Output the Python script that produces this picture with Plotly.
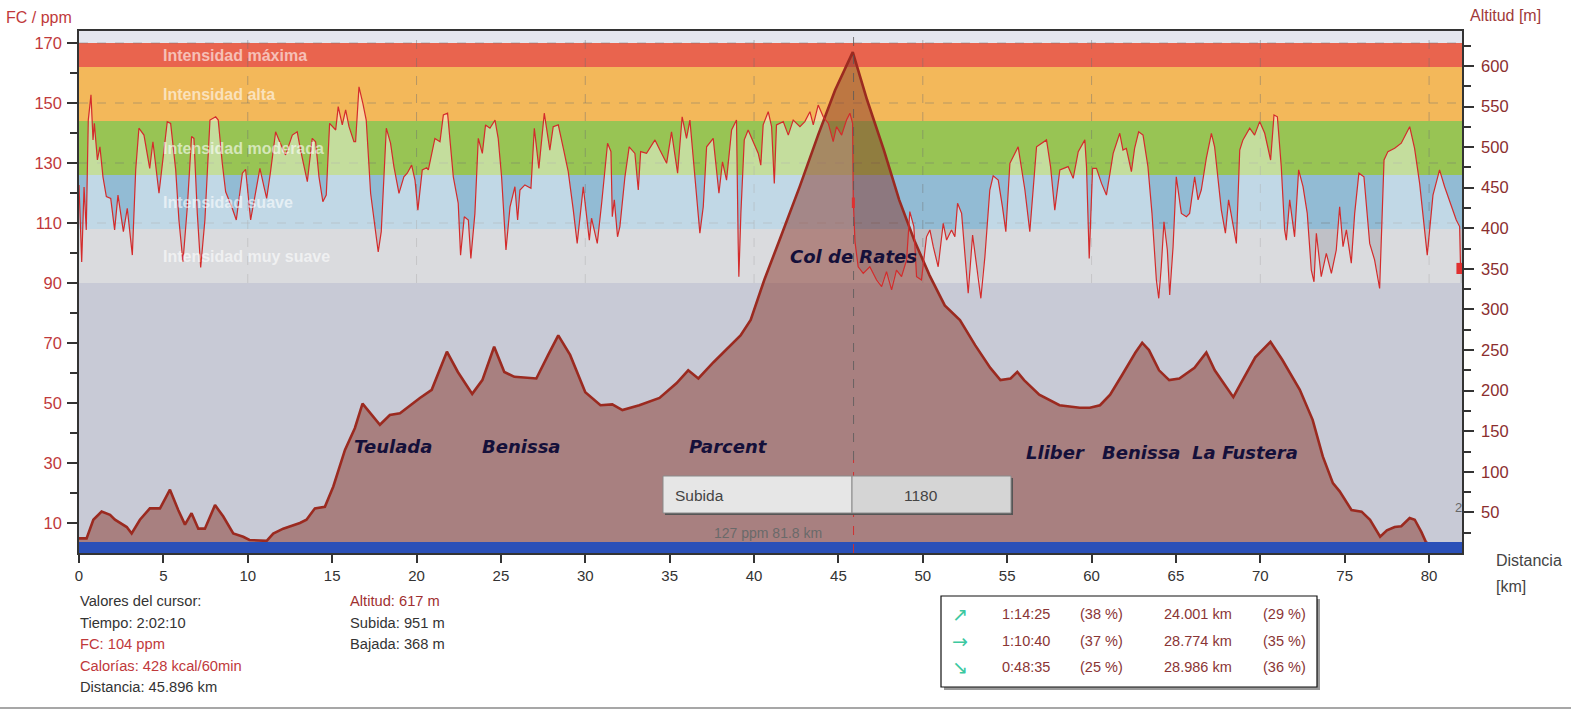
import plotly.graph_objects as go
import numpy as np

# ---------------- data ----------------
hr_km = [0, 0.16, 0.3, 0.43, 0.55, 0.71, 0.83, 0.91, 1.09, 1.24, 1.42, 1.62, 1.88, 2.11, 2.31, 2.63, 2.86, 3.16,
         3.36, 3.55, 3.85, 4.19, 4.38, 4.74, 5.23, 5.43, 5.73, 5.92, 6.16, 6.42, 6.67, 6.81, 7.01, 7.21, 7.46, 7.76,
         8.1, 8.25, 8.49, 8.69, 9.08, 9.32, 9.68, 9.87, 10.17, 10.47, 10.72, 10.96, 11.12, 11.35, 11.65, 11.85, 12.24,
         12.64, 12.93, 13.13, 13.53, 13.82, 14.02, 14.22, 14.45, 14.65, 14.85, 15.21, 15.36, 15.6, 15.8, 16.0, 16.29,
         16.39, 16.59, 16.82, 17.02, 17.28, 17.52, 17.73, 17.91, 18.21, 18.46, 18.66, 18.96, 19.25, 19.45, 19.71,
         19.91, 20.08, 20.34, 20.6, 20.7, 21.09, 21.39, 21.59, 21.84, 22.18, 22.47, 22.61, 22.83, 23.07, 23.22, 23.46,
         23.66, 23.9, 24.09, 24.35, 24.65, 24.84, 25.04, 25.3, 25.54, 25.83, 25.99, 26.13, 26.42, 26.78, 26.98, 27.25,
         27.57, 27.9, 28.1, 28.4, 28.7, 28.99, 29.29, 29.52, 29.88, 30.24, 30.37, 30.71, 30.97, 31.32, 31.52, 31.6,
         31.72, 31.91, 32.05, 32.35, 32.6, 32.94, 33.14, 33.28, 33.63, 34.13, 34.42, 34.82, 35.11, 35.47, 35.74, 36.0,
         36.2, 36.46, 36.59, 36.79, 36.99, 37.19, 37.58, 37.92, 38.13, 38.37, 38.67, 38.96, 39.06, 39.1, 39.22, 39.42,
         39.65, 39.95, 40.25, 40.4, 40.54, 40.84, 41.04, 41.2, 41.33, 41.73, 42.03, 42.32, 42.72, 43.01, 43.31, 43.51,
         43.8, 44.1, 44.4, 44.69, 44.89, 45.19, 45.48, 45.68, 45.84, 45.88, 45.98, 46.17, 46.47, 46.86, 47.26, 47.56,
         47.85, 48.15, 48.44, 48.74, 49.04, 49.23, 49.47, 49.63, 49.92, 50.22, 50.42, 50.62, 50.91, 51.21, 51.41, 51.7,
         51.9, 52.06, 52.3, 52.49, 52.69, 52.95, 53.18, 53.44, 53.68, 53.97, 54.17, 54.47, 54.72, 54.92, 55.16, 55.65,
         56.05, 56.34, 56.74, 57.03, 57.33, 57.57, 57.82, 58.12, 58.61, 58.91, 59.21, 59.6, 59.7, 59.86, 60.06, 60.29,
         60.59, 60.88, 61.28, 61.67, 61.86, 62.06, 62.36, 62.55, 62.79, 63.05, 63.34, 63.58, 63.84, 63.98, 64.13, 64.29,
         64.49, 64.63, 64.83, 65.02, 65.32, 65.62, 65.81, 66.11, 66.31, 66.5, 66.8, 67.1, 67.29, 67.69, 67.93, 68.12,
         68.32, 68.58, 68.78, 68.97, 69.37, 69.66, 69.96, 70.26, 70.61, 70.81, 71.01, 71.24, 71.44, 71.54, 71.74, 72.03,
         72.27, 72.53, 72.78, 73.02, 73.18, 73.32, 73.61, 73.91, 74.21, 74.5, 74.7, 74.9, 75.1, 75.39, 75.59, 75.84,
         76.14, 76.48, 76.77, 77.07, 77.33, 77.56, 77.96, 78.35, 78.85, 79.14, 79.44, 79.89, 80.23, 80.62, 80.92, 81.31,
         81.61, 81.81, 81.86]
hr_ppm = [122.7, 97, 122, 107.7, 144.3, 152.7, 137.7, 143.2, 131, 135.4, 125.4, 118.8, 118.2, 107.7, 119.3, 107.1, 114.9,
          99.3, 127.7, 141.6, 139.3, 128.2, 137.1, 119.9, 143.8, 143.2, 127.7, 111, 97.1, 115.4, 138.8, 138.2, 113.2,
          95.2, 111, 144.3, 145.4, 144.3, 129.9, 120.4, 114.9, 111, 126.6, 127.9, 111, 119.9, 128.2, 122.1, 118.2, 127.1,
          140.4, 137.7, 132.7, 139.3, 140.4, 134.3, 123.8, 138.2, 137.1, 125.4, 117.1, 119.3, 143.2, 141, 148.8, 142.7,
          147.7, 142.1, 137.1, 137.1, 155.4, 149.9, 144.3, 119.9, 109.3, 100.4, 107.1, 141.6, 136.6, 128.8, 119.9, 125.4,
          126.6, 129.3, 124.3, 114.3, 127.7, 128.4, 127.7, 138.2, 137.1, 146, 146.6, 125.4, 116.6, 99.3, 112.1, 111,
          98.2, 113.2, 138.2, 133.2, 142.7, 141.6, 144.3, 138.2, 125.4, 101, 115.4, 122.1, 111, 121, 122.7, 121.6, 141.6,
          128.2, 146.6, 134.3, 142.1, 142.7, 134.9, 127.1, 114.3, 103.2, 122.1, 104.3, 111.6, 103.2, 116.6, 136.6, 133.8,
          112.1, 117.7, 105.4, 108.8, 125.4, 135.4, 133.2, 121, 133.8, 133.2, 137.7, 134.3, 129.9, 140.4, 126.6, 145.4,
          138.2, 144.3, 126.6, 117.7, 106.6, 115.4, 135.4, 138.2, 119.9, 130.4, 124.3, 141, 144.3, 103.2, 92.1, 113.2,
          137.7, 141, 137.1, 133.2, 129.3, 142.7, 147.1, 142.1, 123.2, 142.7, 143.8, 139.3, 144.3, 142.1, 143.8, 147.1,
          142.7, 149.3, 145.4, 143.2, 137.1, 142.1, 139.3, 144.3, 146.6, 143.2, 117.7, 103.8, 95.4, 93.2, 95.4, 91,
          88.8, 93.8, 87.7, 94.3, 92.1, 97.7, 113.8, 108.8, 92.1, 91, 105.4, 107.7, 102.1, 95.4, 109.9, 104.3, 107.7,
          105.4, 116.6, 113.2, 99.9, 86.6, 106, 95.4, 84.9, 98.8, 121, 125.7, 124.3, 115.4, 107.1, 129.9, 135.4, 121,
          107.1, 135.4, 136.6, 137.7, 128.8, 114.3, 127.7, 128.8, 124.9, 133.8, 137.7, 128.8, 98.2, 128.2, 128.2, 123.2,
          119.3, 133.2, 139.9, 134.3, 134.9, 127.1, 134.9, 140.4, 139.3, 128.8, 113.2, 91, 84.9, 95.4, 110.4, 101, 86,
          102.1, 125.4, 113.2, 112.1, 113.2, 125.4, 117.7, 121, 131.6, 139.9, 135.4, 114.3, 106.6, 117.7, 111, 103.2,
          134.3, 137.7, 141.6, 139.3, 143.8, 139.9, 131, 146, 145.4, 128.8, 107.7, 104.3, 117.7, 105.4, 127.7, 122.1,
          113.2, 94.3, 90.4, 106.6, 92.1, 99.9, 93.2, 101, 115.4, 102.1, 107.7, 96.6, 113.2, 126.6, 125.4, 103.2, 97.7,
          88.2, 131, 133.8, 134.9, 136.6, 142.1, 134.9, 123.2, 99.3, 119.3, 127.7, 122.1, 115.4, 111, 108.8, 96]

alt_km = [0.0, 0.45, 0.85, 1.34, 1.84, 2.13, 2.83, 3.12, 3.61, 4.2, 4.8, 5.39, 5.88, 6.28, 6.67, 7.07, 7.46, 8.06,
          8.55, 9.14, 9.73, 10.1, 11.12, 11.51, 12.1, 13.09, 13.48, 13.98, 14.57, 15.07, 15.76, 16.35, 16.8, 17.83,
          18.42, 19.02, 20.2, 20.9, 21.8, 22.45, 23.3, 23.9, 24.6, 25.2, 25.8, 27.1, 27.8, 28.4, 29.1, 30.0, 30.9,
          31.6, 32.2, 33.2, 34.4, 35.4, 36.1, 36.7, 37.6, 38.4, 39.2, 39.8, 40.6, 41.5, 42.7, 43.8, 44.8, 45.85, 46.7,
          47.7, 48.6, 49.5, 50.4, 51.3, 52.2, 53.1, 54.0, 54.6, 55.2, 55.6, 56.0, 56.9, 58.1, 59.3, 59.9, 60.5, 61.1,
          61.8, 62.6, 63.0, 63.4, 64.0, 64.6, 65.2, 66.1, 66.8, 67.3, 67.9, 68.4, 68.9, 69.7, 70.6, 71.3, 72.34, 73.1,
          73.7, 74.3, 74.7, 75.4, 76.0, 76.5, 77.1, 77.5, 77.96, 78.35, 78.85, 79.15, 79.54, 79.8, 80.1, 81.9]
alt_m = [18, 18, 41, 51, 47, 41, 32, 24, 41, 55, 55, 78, 53, 35, 49, 30, 30, 59, 45, 24, 20, 16, 15, 24, 30, 37, 41,
         55, 57, 82, 127, 154, 184, 158, 170, 172, 191, 201, 248, 223, 196, 213, 254, 223, 217, 215, 244, 268, 244,
         198, 182, 183, 176, 182, 191, 209, 225, 215, 235, 252, 268, 287, 336, 385, 451, 515, 570, 617, 558, 496,
         435, 385, 342, 305, 287, 256, 228, 213, 215, 223, 213, 195, 182, 179, 179, 182, 195, 219, 247, 259, 250,
         225, 213, 215, 228, 247, 225, 207, 192, 211, 241, 260, 238, 201, 164, 119, 86, 76, 53, 51, 41, 20, 28, 32,
         33, 43, 41, 26, 14, 8, 8]

zone_edges = [90, 108, 126, 144, 162, 170]
zone_names = ["Intensidad muy suave", "Intensidad suave", "Intensidad moderada", "Intensidad alta", "Intensidad máxima"]
zone_colors = ["#BFC0C6", "#92BBD4", "#98C454", "#F3B85A", "#E9644E"]

x_ticks = list(range(0, 81, 5))
hr_ticks = list(range(10, 171, 20))
hr_minor = list(range(20, 161, 20))
alt_ticks = list(range(50, 601, 50))
alt_minor = list(range(25, 626, 50))

places = ["Teulada", "Benissa", "Parcent", "Col de Rates", "Lliber", "Benissa", "La Fustera"]

cursor_km = 45.896
cursor_lines = [("Valores del cursor:", "#333333"), ("Tiempo: 2:02:10", "#333333"), ("FC: 104 ppm", "#C0393B"),
                ("Calorías: 428 kcal/60min", "#C0393B"), ("Distancia: 45.896 km", "#333333")]
alt_lines = [("Altitud: 617 m", "#A03030"), ("Subida: 951 m", "#333333"), ("Bajada: 368 m", "#333333")]

stat_arrows = ["↗", "→", "↘"]
stat_time = ["1:14:25", "1:10:40", "0:48:35"]
stat_time_pct = ["(38 %)", "(37 %)", "(25 %)"]
stat_dist = ["24.001 km", "28.774 km", "28.986 km"]
stat_dist_pct = ["(29 %)", "(35 %)", "(36 %)"]

subida_label, subida_value = "Subida", "1180"
footer_label = "127 ppm 81.8 km"

# ---------------- geometry ----------------
W_, H_ = 1571, 710
PL, PR, PT, PB = 79, 1462, 31, 553
PW, PH = PR - PL, PB - PT
X_MAX = 81.95
HR_MAX = 174.0
ALT_MAX = 643.0


def px(x):
    return (x - PL) / PW


def py(y):
    return (PB - y) / PH


FONT = "Liberation Sans, Arial, sans-serif"

fig = go.Figure()

hr_a = np.array(hr_ppm)

# white veil beneath the HR curve (only inside the zone area)
fig.add_trace(go.Scatter(x=hr_km, y=[zone_edges[0]] * len(hr_km), mode="lines",
                         line=dict(width=0), hoverinfo="skip", showlegend=False))
fig.add_trace(go.Scatter(x=hr_km, y=np.maximum(hr_a, zone_edges[0]), mode="lines",
                         line=dict(width=0), fill="tonexty", fillcolor="rgba(255,255,255,0.43)",
                         hoverinfo="skip", showlegend=False))

# altitude profile
fig.add_trace(go.Scatter(x=alt_km, y=alt_m, yaxis="y2", mode="lines",
                         line=dict(color="#9B2A20", width=2.6), fill="tozeroy",
                         fillcolor="rgba(136,54,42,0.5)", hoverinfo="skip", showlegend=False))

# HR line on top
fig.add_trace(go.Scatter(x=hr_km, y=hr_ppm, yaxis="y3", mode="lines",
                         line=dict(color="#D42B2B", width=1.2), hoverinfo="skip", showlegend=False))

shapes = []
shapes.append(dict(type="rect", xref="paper", yref="y", x0=0, x1=1, y0=zone_edges[-1], y1=HR_MAX,
                   fillcolor="#E4E6EE", line=dict(width=0), layer="below"))
for i, c in enumerate(zone_colors):
    shapes.append(dict(type="rect", xref="paper", yref="y", x0=0, x1=1, y0=zone_edges[i], y1=zone_edges[i + 1],
                       fillcolor=c, line=dict(width=0), layer="below"))
for gx in range(10, 81, 10):
    shapes.append(dict(type="line", xref="x", yref="y", x0=gx, x1=gx, y0=zone_edges[0], y1=HR_MAX,
                       line=dict(color="rgba(110,110,110,0.45)", width=1, dash="dash"), layer="below"))
for gy in [110, 130, 150, 170]:
    shapes.append(dict(type="line", xref="paper", yref="y", x0=0, x1=1, y0=gy, y1=gy,
                       line=dict(color="rgba(110,110,110,0.45)", width=1, dash="dash"), layer="below"))
shapes.append(dict(type="rect", xref="paper", yref="y", x0=0, x1=1, y0=0, y1=3.7,
                   fillcolor="#2A50B8", line=dict(width=0), layer="above"))
shapes.append(dict(type="line", xref="x", yref="paper", x0=cursor_km, x1=cursor_km, y0=py(460), y1=1,
                   line=dict(color="rgba(90,90,90,0.8)", width=1, dash="dash"), layer="above"))
shapes.append(dict(type="line", xref="x", yref="paper", x0=cursor_km, x1=cursor_km, y0=0, y1=py(460),
                   line=dict(color="#D03030", width=1, dash="dash"), layer="above"))
shapes.append(dict(type="rect", xref="x", yref="y", x0=cursor_km - 0.1, x1=cursor_km + 0.08, y0=115, y1=118.5,
                   fillcolor="#E03030", line=dict(width=0), layer="above"))
shapes.append(dict(type="rect", xref="x", yref="y", x0=81.62, x1=81.95, y0=93, y1=96.7,
                   fillcolor="#E03030", line=dict(width=0), layer="above"))
shapes.append(dict(type="rect", xref="paper", yref="paper", x0=px(665), x1=px(1013), y0=py(515), y1=py(478),
                   fillcolor="#555555", line=dict(width=0), layer="above"))
shapes.append(dict(type="rect", xref="paper", yref="paper", x0=px(663), x1=px(852), y0=py(513), y1=py(476),
                   fillcolor="#E6E6E6", line=dict(color="#8A8A8A", width=1), layer="above"))
shapes.append(dict(type="rect", xref="paper", yref="paper", x0=px(852), x1=px(1011), y0=py(513), y1=py(476),
                   fillcolor="#D5D5D5", line=dict(color="#8A8A8A", width=1), layer="above"))
shapes.append(dict(type="rect", xref="paper", yref="paper", x0=px(944), x1=px(1320), y0=py(690), y1=py(599),
                   fillcolor="#9A9A9A", line=dict(width=0), layer="above"))
shapes.append(dict(type="rect", xref="paper", yref="paper", x0=px(941), x1=px(1317), y0=py(687), y1=py(596),
                   fillcolor="white", line=dict(color="#111111", width=1.2), layer="above"))
shapes.append(dict(type="line", xref="paper", yref="paper", x0=px(0), x1=px(1571), y0=py(708), y1=py(708),
                   line=dict(color="#8A8A8A", width=1.5), layer="above"))

ann = []
for i, name in enumerate(zone_names):
    ann.append(dict(text=name, xref="paper", yref="y", x=px(161), y=(zone_edges[i] + zone_edges[i + 1]) / 2,
                    xanchor="left", yanchor="middle", showarrow=False,
                    font=dict(family=FONT, size=16, color="rgba(255,255,255,0.6)", weight="bold")))
place_pos = [(393, 446), (521, 446), (728, 446), (853, 256), (1055, 453), (1141, 453), (1245, 453)]
for name, (x, y) in zip(places, place_pos):
    ann.append(dict(text=name, xref="paper", yref="paper", x=px(x), y=py(y), xanchor="center", yanchor="middle",
                    showarrow=False, font=dict(family="DejaVu Sans, Verdana, sans-serif", size=18,
                                               color="#15103A", weight="bold", style="italic")))
ann.append(dict(text="FC / ppm", xref="paper", yref="paper", x=px(4), y=py(17), xanchor="left", yanchor="middle",
                showarrow=False, font=dict(family=FONT, size=16, color="#C0393B")))
ann.append(dict(text="Altitud [m]", xref="paper", yref="paper", x=px(1468), y=py(16), xanchor="left",
                yanchor="middle", showarrow=False, font=dict(family=FONT, size=16, color="#A03A3A")))
ann.append(dict(text="Distancia", xref="paper", yref="paper", x=px(1494), y=py(560), xanchor="left",
                yanchor="middle", showarrow=False, font=dict(family=FONT, size=16, color="#444444")))
ann.append(dict(text="[km]", xref="paper", yref="paper", x=px(1494), y=py(586), xanchor="left",
                yanchor="middle", showarrow=False, font=dict(family=FONT, size=16, color="#444444")))
ann.append(dict(text=subida_label, xref="paper", yref="paper", x=px(673), y=py(495), xanchor="left",
                yanchor="middle", showarrow=False, font=dict(family=FONT, size=15.5, color="#444444")))
ann.append(dict(text=subida_value, xref="paper", yref="paper", x=px(921), y=py(495), xanchor="center",
                yanchor="middle", showarrow=False, font=dict(family=FONT, size=15.5, color="#444444")))
ann.append(dict(text=footer_label, xref="paper", yref="paper", x=px(768), y=py(533), xanchor="center",
                yanchor="middle", showarrow=False, font=dict(family=FONT, size=14, color="#6A6A6A")))
ann.append(dict(text="2", xref="paper", yref="paper", x=px(1458), y=py(508), xanchor="center",
                yanchor="middle", showarrow=False, font=dict(family=FONT, size=13, color="#666666")))
for i, (t, c) in enumerate(cursor_lines):
    ann.append(dict(text=t, xref="paper", yref="paper", x=px(78), y=py(601 + i * 21.5), xanchor="left",
                    yanchor="middle", showarrow=False, font=dict(family=FONT, size=14.7, color=c)))
for i, (t, c) in enumerate(alt_lines):
    ann.append(dict(text=t, xref="paper", yref="paper", x=px(348), y=py(601 + i * 21.5), xanchor="left",
                    yanchor="middle", showarrow=False, font=dict(family=FONT, size=14.7, color=c)))
for i in range(3):
    yy = py(614 + i * 26.5)
    ann.append(dict(text=stat_arrows[i], xref="paper", yref="paper", x=px(960), y=yy, xanchor="center",
                    yanchor="middle", showarrow=False,
                    font=dict(family="DejaVu Sans, sans-serif", size=19, color="#3CC8A0")))
    for txt, xl in [(stat_time[i], 1000), (stat_time_pct[i], 1078), (stat_dist[i], 1162), (stat_dist_pct[i], 1261)]:
        ann.append(dict(text=txt, xref="paper", yref="paper", x=px(xl), y=yy, xanchor="left", yanchor="middle",
                        showarrow=False, font=dict(family=FONT, size=14.5, color="#8A3535")))

fig.update_layout(
    width=W_, height=H_, autosize=False,
    margin=dict(l=PL, r=W_ - PR, t=PT, b=H_ - PB, pad=0),
    paper_bgcolor="white", plot_bgcolor="#C8CAD6",
    showlegend=False, shapes=shapes, annotations=ann,
    font=dict(family=FONT),
    xaxis=dict(range=[0, X_MAX], tickmode="array", tickvals=x_ticks, ticks="outside", ticklen=8, tickwidth=2,
               tickcolor="#333333", tickfont=dict(family=FONT, size=15, color="#333333"), showgrid=False,
               zeroline=False, showline=True, mirror=True, linecolor="#333333", linewidth=1.5),
    yaxis=dict(range=[0, HR_MAX], tickmode="array", tickvals=hr_ticks, ticks="outside", ticklen=10, tickwidth=2,
               tickcolor="#333333", tickfont=dict(family=FONT, size=16.5, color="#C0393B"), showgrid=False,
               zeroline=False, showline=True, linecolor="#333333", linewidth=1.5, ticklabelstandoff=2,
               minor=dict(tickvals=hr_minor, ticks="outside", ticklen=7, tickwidth=2, tickcolor="#333333",
                          showgrid=False)),
    yaxis2=dict(range=[0, ALT_MAX], overlaying="y", side="right", tickmode="array", tickvals=alt_ticks,
                ticks="outside", ticklen=10, tickwidth=2, tickcolor="#333333",
                tickfont=dict(family=FONT, size=16.5, color="#8B2E2E"), showgrid=False, zeroline=False,
                showline=True, linecolor="#333333", linewidth=1.5, ticklabelstandoff=4,
                minor=dict(tickvals=alt_minor, ticks="outside", ticklen=7, tickwidth=2, tickcolor="#333333",
                           showgrid=False)),
    yaxis3=dict(range=[0, HR_MAX], overlaying="y", visible=False),
)

fig.write_html("out.html")
